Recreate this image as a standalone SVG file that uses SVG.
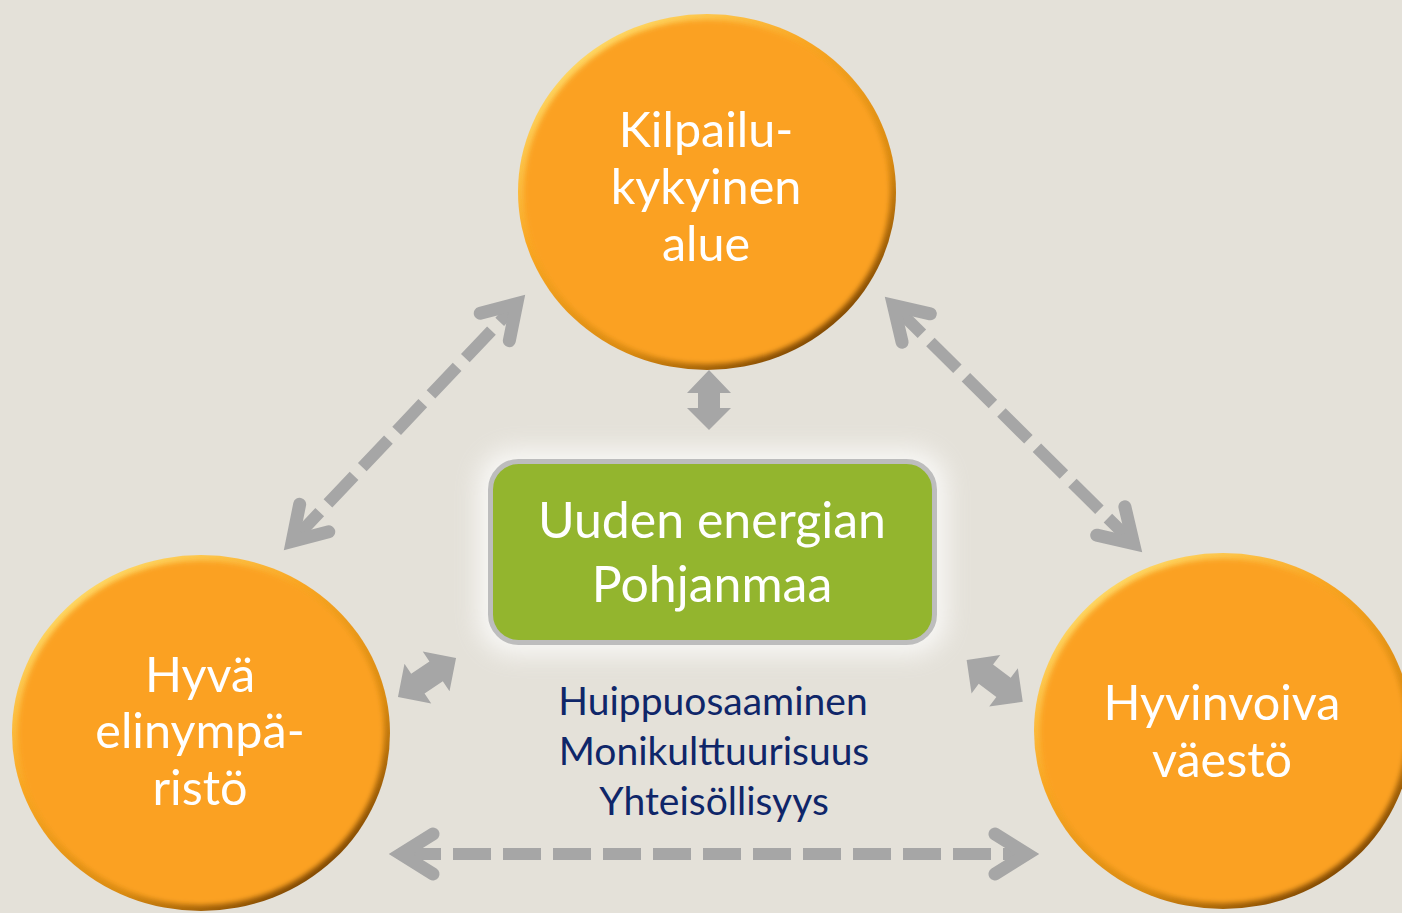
<svg xmlns="http://www.w3.org/2000/svg" width="1402" height="913" viewBox="0 0 1402 913">
<defs>
<style>
.circ-text{font-family:Lato,"Liberation Sans",sans-serif;font-size:48.5px;fill:#ffffff;text-anchor:middle}
.box-text{font-family:Lato,"Liberation Sans",sans-serif;font-size:50px;fill:#ffffff;text-anchor:middle}
.sub-text{font-family:Lato,"Liberation Sans",sans-serif;font-size:39px;fill:#0f2669;text-anchor:middle}
.dash{fill:none;stroke:#a6a6a6;stroke-width:12;stroke-dasharray:38 12;marker-start:url(#chev);marker-end:url(#chev)}
.small{fill:#a6a6a6}
</style>
<linearGradient id="rim" x1="0.15" y1="0.05" x2="0.85" y2="0.95">
<stop offset="0" stop-color="#ffe070"/>
<stop offset="0.35" stop-color="#f9a623"/>
<stop offset="0.7" stop-color="#d98a12"/>
<stop offset="1" stop-color="#6e3b00"/>
</linearGradient>
<filter id="soft" x="-10%" y="-10%" width="120%" height="120%">
<feGaussianBlur stdDeviation="2.5"/>
</filter>
<filter id="glow" x="-20%" y="-30%" width="140%" height="160%">
<feGaussianBlur stdDeviation="12"/>
</filter>
<marker id="chev" markerUnits="userSpaceOnUse" orient="auto-start-reverse" refX="0" refY="0" markerWidth="80" markerHeight="80" overflow="visible">
<path d="M -30,-20 L 2,0 L -30,20" fill="none" stroke="#a6a6a6" stroke-width="13" stroke-linecap="round" stroke-linejoin="miter" stroke-miterlimit="6"/>
</marker>
<path id="dbl" d="M35,0 L11,-24 L11,-12 L-11,-12 L-11,-24 L-35,0 L-11,24 L-11,12 L11,12 L11,24 Z"/>
</defs>
<rect width="1402" height="913" fill="#e4e1d9"/>

<g id="connectors">
<line class="dash" x1="293.6" y1="539.8" x2="515.4" y2="305.2"/>
<line class="dash" x1="894.9" y1="306.9" x2="1132.1" y2="542.1"/>
<line class="dash" x1="403" y1="854" x2="1025" y2="854"/>
<polygon class="small" points="709,370 731,393 720,393 720,408 731,408 709,430 687,408 698,408 698,393 687,393"/>
<use href="#dbl" class="small" transform="translate(427,677.5) rotate(-33.9)"/>
<use href="#dbl" class="small" transform="translate(994.7,680.8) rotate(36.7)"/>
</g>

<g id="node-top">
<ellipse cx="707" cy="192" rx="189" ry="178" fill="url(#rim)"/>
<ellipse cx="707" cy="192" rx="183" ry="172" fill="#fba122" filter="url(#soft)"/>
<text class="circ-text" x="706" y="147">Kilpailu-</text>
<text class="circ-text" x="706" y="204">kykyinen</text>
<text class="circ-text" x="706" y="261">alue</text>
</g>

<g id="node-left">
<ellipse cx="201" cy="733" rx="189" ry="178" fill="url(#rim)"/>
<ellipse cx="201" cy="733" rx="183" ry="172" fill="#fba122" filter="url(#soft)"/>
<text class="circ-text" x="200" y="692">Hyvä</text>
<text class="circ-text" x="200" y="748">elinympä-</text>
<text class="circ-text" x="200" y="805">ristö</text>
</g>

<g id="node-right">
<ellipse cx="1223" cy="731" rx="189" ry="178" fill="url(#rim)"/>
<ellipse cx="1223" cy="731" rx="183" ry="172" fill="#fba122" filter="url(#soft)"/>
<text class="circ-text" x="1222" y="720">Hyvinvoiva</text>
<text class="circ-text" x="1222" y="777">väestö</text>
</g>

<g id="node-center">
<rect x="478" y="449" width="469" height="206" rx="36" fill="#ffffff" opacity="0.75" filter="url(#glow)"/>
<rect x="490.5" y="461.5" width="444" height="181" rx="28" fill="#93b52e" stroke="#bdbdbd" stroke-width="5"/>
<text class="box-text" x="712" y="538">Uuden energian</text>
<text class="box-text" x="712" y="602">Pohjanmaa</text>
</g>

<g id="values">
<text class="sub-text" x="713" y="715">Huippuosaaminen</text>
<text class="sub-text" x="714" y="765">Monikulttuurisuus</text>
<text class="sub-text" x="714" y="815">Yhteisöllisyys</text>
</g>
</svg>
